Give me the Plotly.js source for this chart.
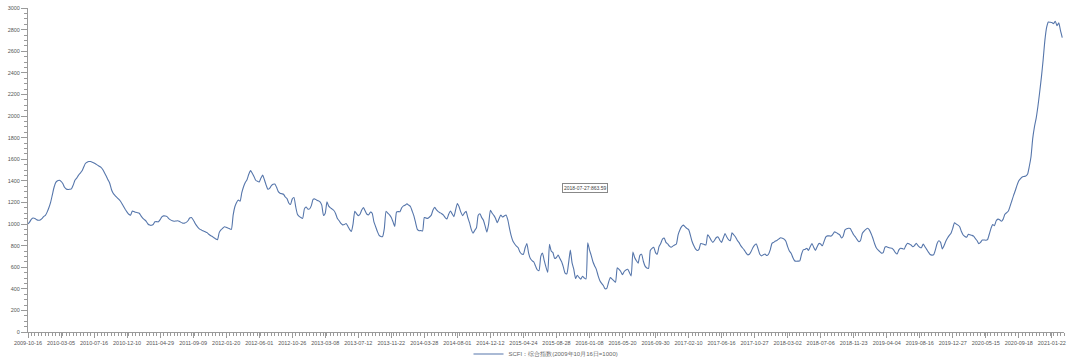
<!DOCTYPE html>
<html>
<head>
<meta charset="utf-8">
<script src="https://cdn.plot.ly/plotly-3.0.1.min.js"></script>
<style>
html,body{margin:0;padding:0;background:#fff;}
#chart{width:1080px;height:357px;}
</style>
</head>
<body>
<div id="chart"></div>
<script>
// Tick labels (every 19th weekly observation)
const tickLabels = ["2009-10-16","2010-03-05","2010-07-16","2010-12-10","2011-04-29","2011-09-09",
  "2012-01-20","2012-06-01","2012-10-26","2013-03-08","2013-07-12","2013-11-22","2014-03-28",
  "2014-08-01","2014-12-12","2015-04-24","2015-08-28","2016-01-08","2016-05-20","2016-09-30",
  "2017-02-10","2017-06-16","2017-10-27","2018-03-02","2018-07-06","2018-11-23","2019-04-04",
  "2019-08-16","2019-12-27","2020-05-15","2020-09-18","2021-01-22"];
const labelStep = 19;

// SCFI composite index, weekly values
const scfi = [
 1000,1020,1045,1055,1050,1040,1035,1038,1050,1068,1080,1110,1150,1200,1270,1340,1385,1400,1405,
 1395,1375,1340,1325,1320,1322,1325,1360,1405,1425,1450,1470,1490,1525,1560,1572,1578,1578,1572,
 1565,1555,1545,1535,1525,1505,1475,1445,1410,1378,1320,1285,1265,1248,1232,1215,1190,1162,1135,
 1110,1090,1082,1120,1115,1108,1105,1100,1075,1055,1040,1025,1000,990,988,995,1020,1022,1020,
 1040,1065,1075,1074,1068,1050,1038,1030,1026,1027,1030,1025,1015,1008,1008,1015,1030,1055,1060,
 1040,1010,985,965,950,942,935,928,920,905,893,885,872,862,855,920,945,960,975,
 970,962,955,950,1080,1160,1200,1222,1210,1290,1345,1385,1410,1460,1494,1470,1440,1405,1395,
 1390,1425,1453,1410,1360,1322,1330,1355,1368,1370,1340,1300,1285,1280,1275,1250,1235,1195,1180,
 1230,1245,1160,1090,1070,1060,1052,1140,1158,1138,1140,1170,1228,1232,1222,1215,1205,1175,1080,
 1100,1205,1165,1150,1138,1125,1095,1050,1030,1005,992,995,1005,980,950,930,1000,1118,1095,
 1078,1090,1130,1152,1120,1090,1085,1110,1100,1020,975,930,895,885,884,960,1118,1100,1085,
 1060,1020,978,1110,1115,1114,1150,1168,1175,1186,1175,1162,1120,1075,1010,950,937,940,935,
 1060,1055,1052,1065,1082,1130,1154,1130,1115,1105,1095,1082,1060,1046,1090,1120,1095,1068,1130,
 1190,1160,1110,1078,1100,1118,1060,1012,950,915,940,965,1080,1095,1060,1035,980,925,1000,
 1128,1100,1080,1050,1012,1050,1083,1065,1075,1083,1040,960,890,840,815,795,780,740,722,
 720,780,820,730,680,660,648,610,575,570,700,730,660,600,552,812,750,735,680,
 690,712,680,650,600,545,540,640,758,640,580,495,525,505,490,515,500,490,825,
 760,710,650,612,578,520,475,450,430,400,405,460,505,490,475,460,595,580,560,
 530,560,575,580,550,520,740,690,660,636,710,720,655,610,592,590,755,775,785,
 735,720,790,820,860,870,830,815,795,785,795,806,815,900,945,975,990,975,960,
 950,900,840,800,770,755,765,820,815,810,806,900,880,850,830,850,875,880,850,
 830,870,912,880,855,845,918,900,880,850,830,800,780,760,735,715,720,745,780,
 805,815,770,720,705,715,722,708,720,760,820,830,842,850,862,872,868,860,840,
 790,750,730,690,660,655,656,658,720,760,765,775,755,790,820,785,755,790,820,
 815,798,840,880,890,890,888,905,928,920,910,900,870,890,945,955,960,958,930,
 900,880,855,835,850,915,935,950,960,945,912,870,820,780,760,745,730,735,785,
 790,782,778,775,760,735,722,760,775,772,766,800,822,815,806,790,800,822,800,
 785,780,815,790,765,740,718,712,715,760,820,845,830,770,800,840,870,895,915,
 960,1012,1000,990,975,930,898,885,877,905,900,895,888,865,845,818,830,852,852,
 850,855,905,960,995,985,1030,1045,1040,1025,1045,1090,1105,1120,1165,1215,1265,1310,1360,
 1400,1420,1435,1440,1445,1460,1530,1620,1790,1900,1980,2090,2220,2360,2520,2700,2820,2870,2868,
 2865,2855,2878,2835,2862,2790,2725
];

const seriesName = "SCFI：综合指数(2009年10月16日=1000)";
const tooltipText = "2018-07-27:863.59";

const xIdx = scfi.map((v, i) => i);
const tickVals = tickLabels.map((t, i) => i * labelStep);

const axisColor = "#9a9a9a";
const textColor = "#555";
const fontFamily = "'Liberation Sans', Arial, sans-serif";

const trace = {
  x: xIdx,
  y: scfi,
  type: "scatter",
  mode: "lines",
  name: seriesName,
  line: {color: "#5676ab", width: 1.1, shape: "spline", smoothing: 0.5},
  hoverinfo: "skip"
};

const layout = {
  width: 1080,
  height: 357,
  margin: {l: 28, r: 16, t: 8, b: 25, pad: 0, autoexpand: false},
  paper_bgcolor: "#fff",
  plot_bgcolor: "#fff",
  font: {family: fontFamily, size: 6, color: textColor},
  showlegend: true,
  legend: {
    orientation: "h",
    x: 0.5, xanchor: "center",
    y: -0.068, yanchor: "middle",
    font: {size: 6, color: "#666", family: fontFamily},
    itemwidth: 30,
    bgcolor: "rgba(0,0,0,0)",
    borderwidth: 0
  },
  xaxis: {
    type: "linear",
    range: [0, 596],
    showgrid: false,
    zeroline: false,
    showline: true,
    linecolor: axisColor,
    linewidth: 1,
    ticks: "outside",
    ticklen: 5,
    tickwidth: 1,
    tickcolor: axisColor,
    tickmode: "array",
    tickvals: tickVals,
    ticktext: tickLabels,
    tickangle: 0,
    tickfont: {size: 5.5, color: textColor, family: fontFamily},
    minor: {tickmode: "linear", tick0: 0, dtick: 2, ticklen: 3, tickcolor: axisColor, tickwidth: 1, showgrid: false},
    automargin: false,
    fixedrange: true
  },
  yaxis: {
    range: [0, 3000],
    showgrid: false,
    zeroline: false,
    showline: true,
    linecolor: axisColor,
    linewidth: 1,
    ticks: "outside",
    ticklen: 6,
    tickwidth: 1,
    tickcolor: axisColor,
    dtick: 200,
    tick0: 0,
    tickfont: {size: 5.5, color: textColor, family: fontFamily},
    minor: {dtick: 50, ticklen: 3, tickcolor: axisColor, tickwidth: 1, showgrid: false},
    automargin: false,
    fixedrange: true
  },
  annotations: [{
    xref: "paper", yref: "paper",
    x: 0.5377, y: 0.443,
    xanchor: "center", yanchor: "middle",
    text: tooltipText,
    showarrow: false,
    font: {size: 5, color: "#444", family: fontFamily},
    bgcolor: "#fff",
    bordercolor: "#888",
    borderwidth: 1,
    borderpad: 1
  }]
};

Plotly.newPlot("chart", [trace], layout, {displayModeBar: false, staticPlot: true});
</script>
</body>
</html>
